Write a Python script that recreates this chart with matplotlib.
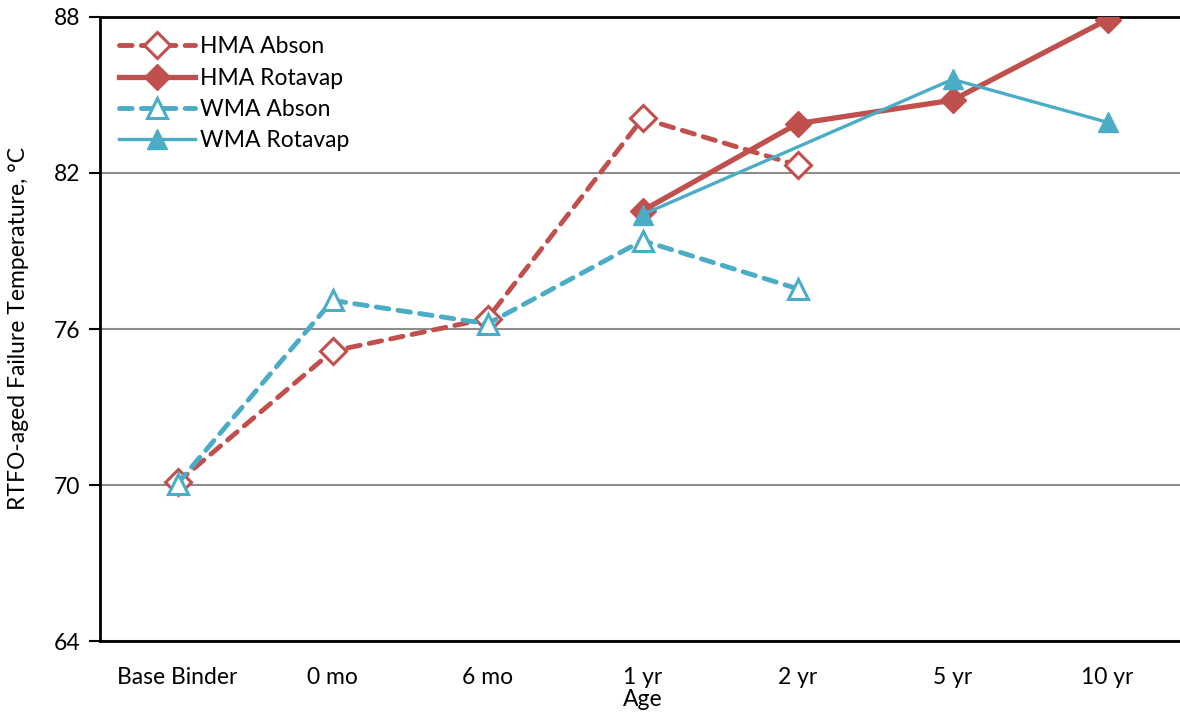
import numpy as np
import matplotlib.pyplot as plt

# categories & series
ages = ["Base Binder", "0 mo", "6 mo", "1 yr", "2 yr", "5 yr", "10 yr"]
hma_abson = [70.1, 75.15, 76.4, 84.1, 82.3, None, None]
hma_rotavap = [None, None, None, 80.55, 83.9, 84.8, 87.9]
wma_abson = [70.05, 77.1, 76.2, 79.4, 77.55, None, None]
wma_rotavap = [None, None, None, 80.4, None, 85.6, 83.95]

RED = "#C0504D"
BLUE = "#4BACC6"
FS = 16.5

plt.rcParams["font.family"] = ["Lato", "DejaVu Sans"]

fig = plt.figure(figsize=(11.8, 7.17), dpi=100)
ax = fig.add_axes([100 / 1180, 76 / 717, 1085 / 1180, 624 / 717])


def pts(vals):
    # keep only the given points so gaps get bridged like in Excel
    x = [i for i, v in enumerate(vals) if v is not None]
    y = [v for v in vals if v is not None]
    return x, y


dash = (0, (2.6, 1.9))
x, y = pts(hma_abson)
ax.plot(x, y, color=RED, lw=3.5, ls=dash, dash_capstyle="round", marker="D", ms=13,
        mfc="white", mec=RED, mew=2.2, label="HMA Abson", zorder=3)
x, y = pts(hma_rotavap)
ax.plot(x, y, color=RED, lw=3.8, marker="D", ms=13,
        mfc=RED, mec=RED, label="HMA Rotavap", zorder=3)
x, y = pts(wma_abson)
ax.plot(x, y, color=BLUE, lw=3.5, ls=dash, dash_capstyle="round", marker="^", ms=14,
        mfc="white", mec=BLUE, mew=2.2, label="WMA Abson", zorder=3)
x, y = pts(wma_rotavap)
ax.plot(x, y, color=BLUE, lw=2.4, marker="^", ms=15,
        mfc=BLUE, mec=BLUE, label="WMA Rotavap", zorder=3)

ax.set_xlim(-0.5, 6.5)
ax.set_ylim(64, 88)
ax.set_yticks([64, 70, 76, 82, 88])
ax.set_xticks(range(len(ages)))
ax.set_xticklabels(ages)
ax.tick_params(axis="x", labelsize=FS, length=0, pad=19)
ax.tick_params(axis="y", labelsize=FS, length=8, width=1.5, direction="out", pad=6)
ax.yaxis.grid(True, color="#8c8c8c", lw=1.5)
ax.set_axisbelow(True)

for s in ["left", "bottom", "top"]:
    ax.spines[s].set_linewidth(2)
    ax.spines[s].set_color("black")
ax.spines["right"].set_visible(False)

ax.set_xlabel("Age", fontsize=FS)
ax.xaxis.set_label_coords(0.5, -0.077)
ax.set_ylabel("RTFO-aged Failure Temperature, °C", fontsize=FS, labelpad=18)

ax.legend(loc="upper left", frameon=False, fontsize=FS, handlelength=3.3,
          handletextpad=0.2, labelspacing=0.45, borderaxespad=0.45,
          bbox_to_anchor=(0.0, 1.0))

fig.savefig("out.png", dpi=100)
